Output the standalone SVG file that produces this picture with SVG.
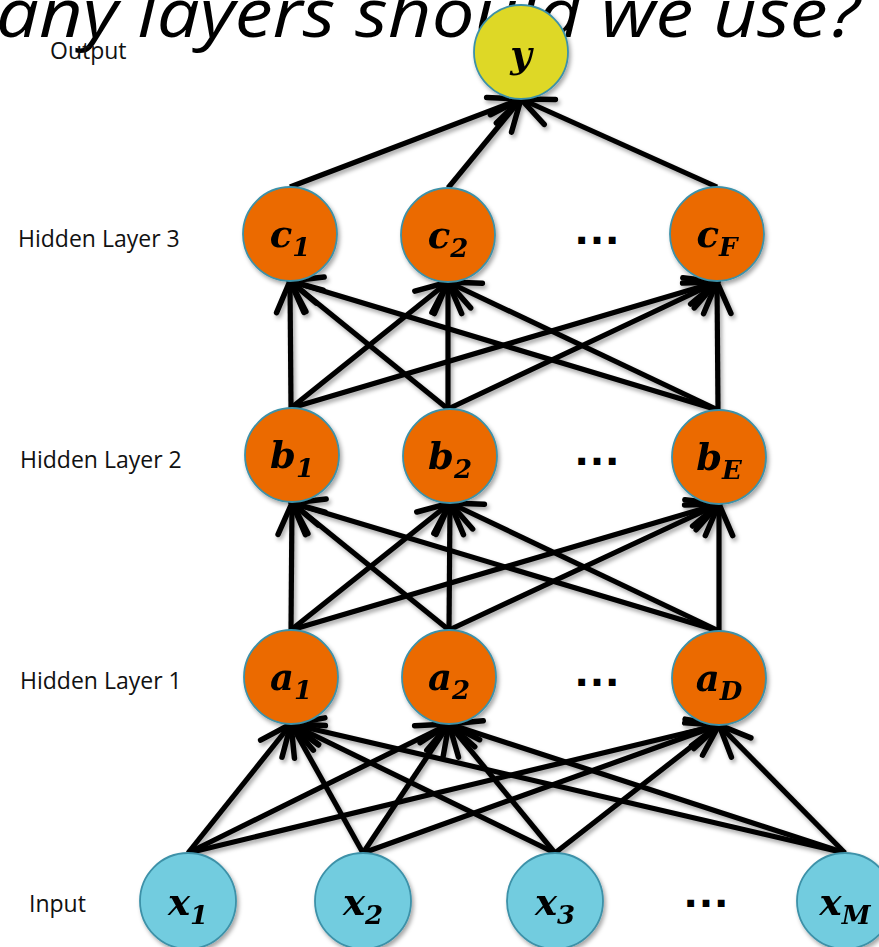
<svg xmlns="http://www.w3.org/2000/svg" width="879" height="947" viewBox="0 0 879 947">
<style>
.lbl{font-family:"Open Sans","DejaVu Sans",sans-serif;font-size:23px;fill:#111}
.title{font-family:"Open Sans","DejaVu Sans",sans-serif;font-style:italic;font-size:67px;fill:#000}
.nl{font-family:"DejaVu Serif","Liberation Serif",serif;font-weight:bold;font-style:italic;font-size:37px;fill:#000;text-anchor:middle}
.sub{font-size:26px}
.dots{font-family:"Liberation Sans","Arial",sans-serif;font-weight:bold;font-size:48px;fill:#000;text-anchor:middle}
.hid{fill:#EB6A02;stroke:#3D91A8;stroke-width:1.8}
.inp{fill:#72CCDF;stroke:#3D91A8;stroke-width:1.8}
.out{fill:#DED825;stroke:#3D91A8;stroke-width:1.8}
.e{stroke:#000;stroke-width:5.2;fill:none;marker-end:url(#ah)}
</style>
<defs>
<marker id="ah" markerUnits="userSpaceOnUse" markerWidth="40" markerHeight="40" viewBox="-34 -18 38 36" refX="0" refY="0" orient="auto">
<path d="M-30,-13 L0,0 L-30,13" fill="none" stroke="#000" stroke-width="5.2" stroke-linecap="round" stroke-linejoin="miter"/>
</marker>
<filter id="sh" x="-20%" y="-20%" width="140%" height="140%">
<feDropShadow dx="2" dy="3" stdDeviation="2" flood-color="#000" flood-opacity="0.35"/>
</filter>
</defs>
<rect width="879" height="947" fill="#fff"/>
<text class="title" x="-4" y="37" textLength="864" lengthAdjust="spacingAndGlyphs">any layers should we use?</text>
<text class="lbl" x="50" y="59">Output</text>
<text class="lbl" x="18" y="247">Hidden Layer 3</text>
<text class="lbl" x="20" y="468">Hidden Layer 2</text>
<text class="lbl" x="20" y="689">Hidden Layer 1</text>
<text class="lbl" x="29" y="912">Input</text>
<g id="connectors" filter="url(#sh)">
<line class="e" x1="188" y1="853" x2="291" y2="724"/>
<line class="e" x1="188" y1="853" x2="449" y2="724"/>
<line class="e" x1="188" y1="853" x2="719" y2="725"/>
<line class="e" x1="363" y1="853" x2="291" y2="724"/>
<line class="e" x1="363" y1="853" x2="449" y2="724"/>
<line class="e" x1="363" y1="853" x2="719" y2="725"/>
<line class="e" x1="555" y1="853" x2="291" y2="724"/>
<line class="e" x1="555" y1="853" x2="449" y2="724"/>
<line class="e" x1="555" y1="853" x2="719" y2="725"/>
<line class="e" x1="845" y1="853" x2="291" y2="724"/>
<line class="e" x1="845" y1="853" x2="449" y2="724"/>
<line class="e" x1="845" y1="853" x2="719" y2="725"/>
<line class="e" x1="291" y1="630" x2="292" y2="503"/>
<line class="e" x1="291" y1="630" x2="450" y2="503"/>
<line class="e" x1="291" y1="630" x2="719" y2="504"/>
<line class="e" x1="449" y1="630" x2="292" y2="503"/>
<line class="e" x1="449" y1="630" x2="450" y2="503"/>
<line class="e" x1="449" y1="630" x2="719" y2="504"/>
<line class="e" x1="719" y1="631" x2="292" y2="503"/>
<line class="e" x1="719" y1="631" x2="450" y2="503"/>
<line class="e" x1="719" y1="631" x2="719" y2="504"/>
<line class="e" x1="291" y1="408" x2="290" y2="281"/>
<line class="e" x1="291" y1="408" x2="448" y2="282"/>
<line class="e" x1="291" y1="408" x2="717" y2="282"/>
<line class="e" x1="448" y1="409" x2="290" y2="281"/>
<line class="e" x1="448" y1="409" x2="448" y2="282"/>
<line class="e" x1="448" y1="409" x2="717" y2="282"/>
<line class="e" x1="718" y1="410" x2="290" y2="281"/>
<line class="e" x1="718" y1="410" x2="448" y2="282"/>
<line class="e" x1="718" y1="410" x2="717" y2="282"/>
<line class="e" x1="290" y1="187" x2="521" y2="99"/>
<line class="e" x1="448" y1="188" x2="521" y2="99"/>
<line class="e" x1="717" y1="187" x2="521" y2="99"/>
</g>
<g id="node-y" filter="url(#sh)"><circle class="out" cx="521" cy="52" r="47"/><text class="nl" x="521" y="67" font-size="40">y</text></g>
<g id="node-c1" filter="url(#sh)"><circle class="hid" cx="290" cy="234" r="47"/><text class="nl" x="290" y="247">c<tspan class="sub" dy="9">1</tspan></text></g>
<g id="node-c2" filter="url(#sh)"><circle class="hid" cx="448" cy="235" r="47"/><text class="nl" x="448" y="248">c<tspan class="sub" dy="9">2</tspan></text></g>
<g id="node-cF" filter="url(#sh)"><circle class="hid" cx="717" cy="234" r="47"/><text class="nl" x="717" y="247">c<tspan class="sub" dy="9">F</tspan></text></g>
<g id="node-b1" filter="url(#sh)"><circle class="hid" cx="292" cy="455" r="47"/><text class="nl" x="292" y="468">b<tspan class="sub" dy="9">1</tspan></text></g>
<g id="node-b2" filter="url(#sh)"><circle class="hid" cx="450" cy="456" r="47"/><text class="nl" x="450" y="469">b<tspan class="sub" dy="9">2</tspan></text></g>
<g id="node-bE" filter="url(#sh)"><circle class="hid" cx="719" cy="457" r="47"/><text class="nl" x="719" y="470">b<tspan class="sub" dy="9">E</tspan></text></g>
<g id="node-a1" filter="url(#sh)"><circle class="hid" cx="291" cy="677" r="47"/><text class="nl" x="291" y="690">a<tspan class="sub" dy="9">1</tspan></text></g>
<g id="node-a2" filter="url(#sh)"><circle class="hid" cx="449" cy="677" r="47"/><text class="nl" x="449" y="690">a<tspan class="sub" dy="9">2</tspan></text></g>
<g id="node-aD" filter="url(#sh)"><circle class="hid" cx="719" cy="678" r="47"/><text class="nl" x="719" y="691">a<tspan class="sub" dy="9">D</tspan></text></g>
<g id="node-x1" filter="url(#sh)"><circle class="inp" cx="188" cy="901" r="48"/><text class="nl" x="188" y="915">x<tspan class="sub" dy="9">1</tspan></text></g>
<g id="node-x2" filter="url(#sh)"><circle class="inp" cx="363" cy="901" r="48"/><text class="nl" x="363" y="915">x<tspan class="sub" dy="9">2</tspan></text></g>
<g id="node-x3" filter="url(#sh)"><circle class="inp" cx="555" cy="901" r="48"/><text class="nl" x="555" y="915">x<tspan class="sub" dy="9">3</tspan></text></g>
<g id="node-xM" filter="url(#sh)"><circle class="inp" cx="845" cy="901" r="48"/><text class="nl" x="845" y="915">x<tspan class="sub" dy="9">M</tspan></text></g>
<text class="dots" x="597" y="244">…</text>
<text class="dots" x="597" y="465">…</text>
<text class="dots" x="597" y="686">…</text>
<text class="dots" x="706" y="907">…</text>
</svg>
